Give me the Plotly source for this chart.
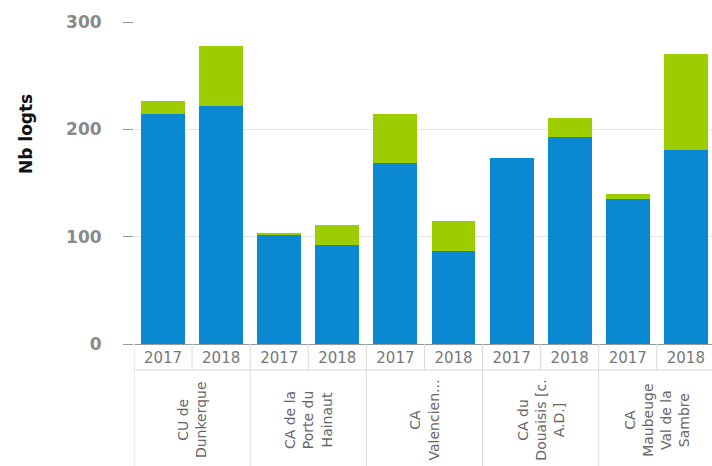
import plotly.graph_objects as go

# Territories (EPCI) and years shown under each bar
groups = ["CU de<br>Dunkerque",
          "CA de la<br>Porte du<br>Hainaut",
          "CA<br>Valencien...",
          "CA du<br>Douaisis [c.<br>A.D.]",
          "CA<br>Maubeuge<br>Val de la<br>Sambre"]
years = ["2017", "2018"]

# Housing counts per territory/year (stacked: blue base + green top)
base_values = [214, 222, 102, 92, 169, 87, 173, 193, 135, 181]
top_values = [12, 56, 1, 19, 45, 28, 0, 18, 5, 89]

y_ticks = [0, 100, 200, 300]
y_title = "Nb logts"

BLUE = "#0a89d2"
GREEN = "#9bcd00"
GRID = "#e6e6e6"
CELL = "#d9d9d9"

# one category per (territory, year) pair
cats = [f"{g}|{y}" for g in groups for y in years]
year_text = [y for _ in groups for y in years]
n = len(cats)

W, H = 712, 466
ML, MR, MT, MB = 134, 0, 22, 122
plot_w = W - ML - MR
plot_h = H - MT - MB


def py(px_below_axis):
    """paper y for a pixel offset below the x axis"""
    return -px_below_axis / plot_h


fig = go.Figure()
fig.add_bar(x=cats, y=base_values, marker_color=BLUE, marker_line_width=0,
            showlegend=False)
fig.add_bar(x=cats, y=top_values, marker_color=GREEN, marker_line_width=0,
            showlegend=False)

shapes = []
year_row = py(26)
bottom = py(MB)
# cell borders of the two-level category table
for i in range(n + 1):
    xb = i - 0.5
    y_end = bottom if i % 2 == 0 else year_row
    shapes.append(dict(type="line", xref="x", yref="paper", x0=xb, x1=xb,
                       y0=0, y1=y_end, line=dict(color=CELL, width=1)))
shapes.append(dict(type="line", xref="x", yref="paper", x0=-0.5, x1=n,
                   y0=year_row, y1=year_row, line=dict(color=CELL, width=1)))

annotations = []
for gi, g in enumerate(groups):
    annotations.append(dict(
        text=g, xref="x", yref="paper", x=2 * gi + 0.5, y=py(76),
        xanchor="center", yanchor="middle", textangle=-90, showarrow=False,
        align="center",
        font=dict(family="DejaVu Sans", size=14, color="#666666")))

# y axis title, set left of the tick labels and towards the top
annotations.append(dict(
    text=y_title, xref="paper", yref="paper",
    x=(26 - ML) / plot_w, y=(H - MB - 134) / plot_h,
    xanchor="center", yanchor="middle", textangle=-90, showarrow=False,
    font=dict(family="DejaVu Sans", size=17, color="#111111", weight="bold")))

fig.update_layout(
    width=W, height=H,
    margin=dict(l=ML, r=MR, t=MT, b=MB),
    barmode="stack", bargap=0.243,
    plot_bgcolor="white", paper_bgcolor="white",
    shapes=shapes, annotations=annotations,
    xaxis=dict(
        type="category", categoryorder="array", categoryarray=cats,
        tickvals=cats, ticktext=year_text,
        range=[-0.5, n - 0.55],
        showline=True, linecolor="#9a9a9a", linewidth=1,
        ticks="", showgrid=False,
        tickfont=dict(family="DejaVu Sans", size=15, color="#777777"),
    ),
    yaxis=dict(
        range=[0, 300], tickvals=y_ticks, ticktext=[str(v) for v in y_ticks],
        showgrid=True, gridcolor=GRID, gridwidth=1, zeroline=False,
        ticks="outside", ticklen=10, tickcolor="#9a9a9a", tickwidth=1,
        ticklabelstandoff=18,
        tickfont=dict(family="DejaVu Sans", size=17, color="#8a8a8a",
                      weight="bold"),
    ),
)

fig.write_html("out.html")
